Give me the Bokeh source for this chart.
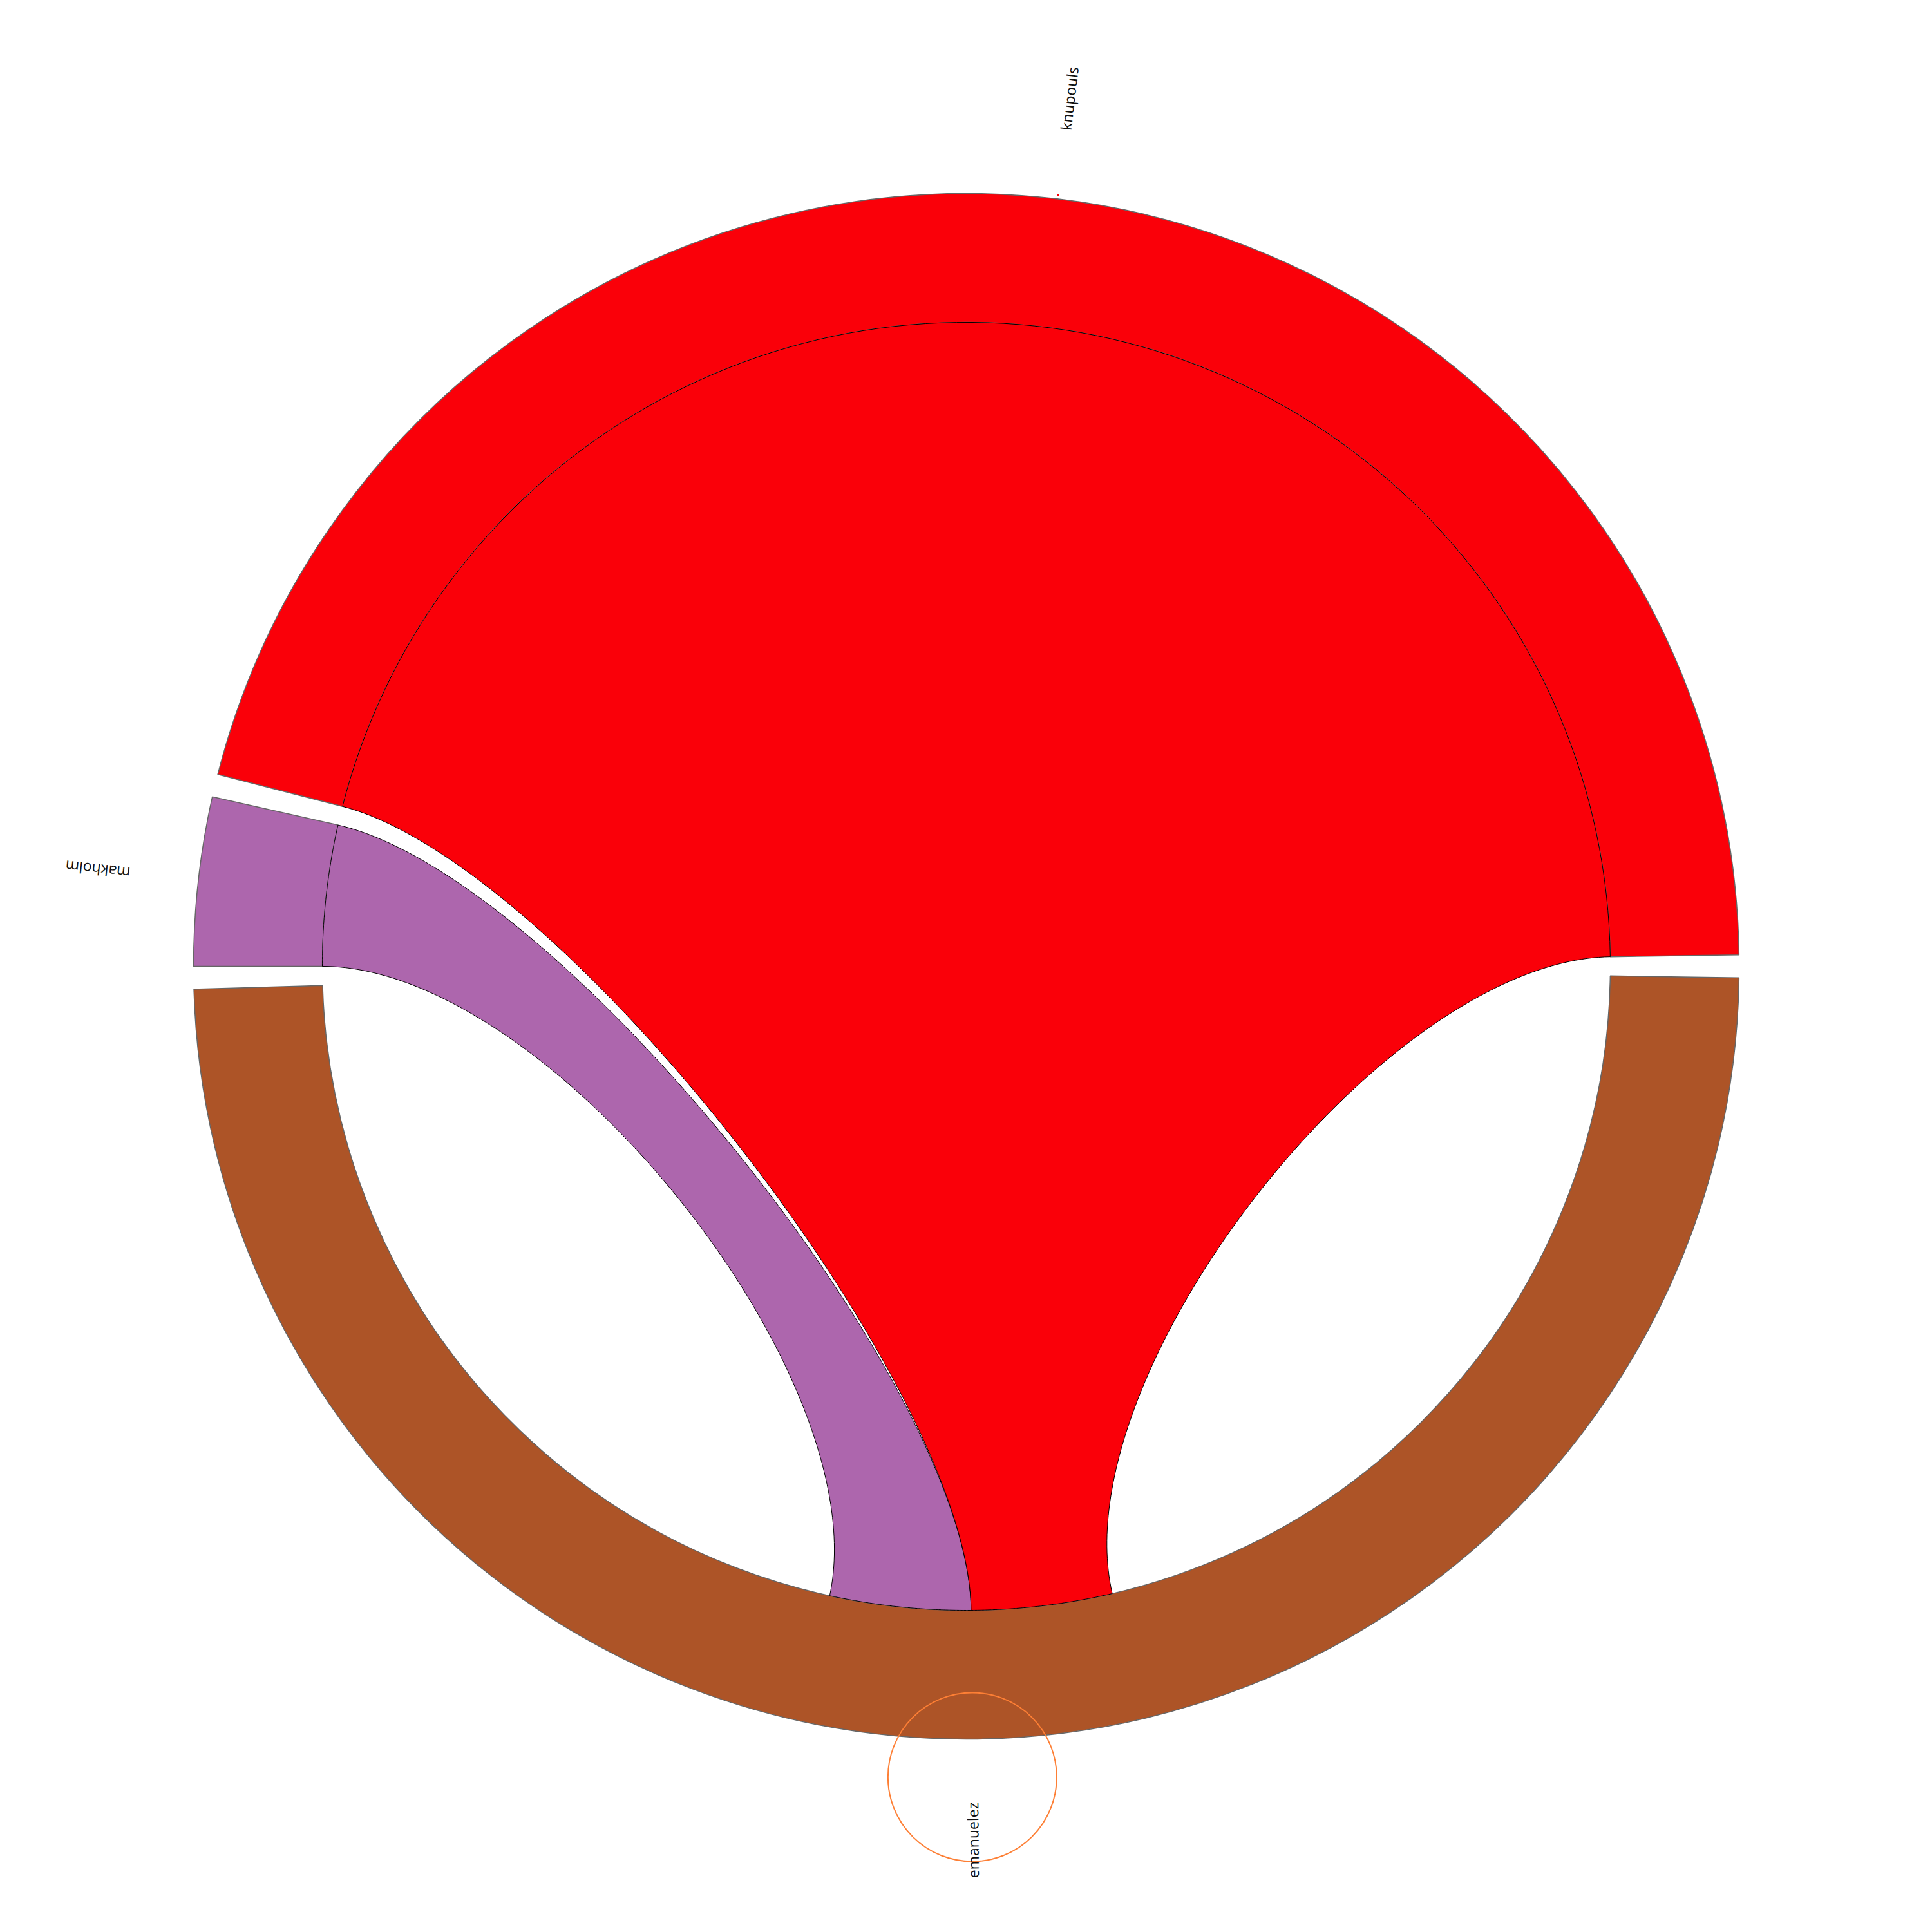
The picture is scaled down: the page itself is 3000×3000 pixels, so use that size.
import numpy as np
from bokeh.plotting import figure
from bokeh.models import Range1d
from bokeh.embed import file_html
from bokeh.resources import INLINE
from bokeh.core.properties import value

# ---- data ----
nodes = ["knupouls", "makholm", "emanuelez"]
node_colors = ["#fa0009", "#ad66ad", "#ad5427"]
node_sizes = [13, 1, 14]
edge_source = ["knupouls", "makholm"]
edge_target = ["emanuelez", "emanuelez"]
edge_source_width = [13, 1]
edge_target_width = [1, 1]

# ---- layout ----
CX, CY = 1500.0, 1500.0
R_IN, R_OUT, R_LAB = 1000.0, 1200.0, 1357.0
GAP = 1.7
K = 0.65
unit = (360.0 - GAP * len(nodes)) / sum(node_sizes)

starts, ends = [], []
a = GAP / 2.0
for s in node_sizes:
    starts.append(a)
    ends.append(a + s * unit)
    a += s * unit + GAP
mids = [(s + e) / 2.0 for s, e in zip(starts, ends)]
idx = {n: i for i, n in enumerate(nodes)}

p = figure(width=2984, height=2984, x_range=Range1d(0, 2984), y_range=Range1d(16, 3000),
           output_backend="svg", toolbar_location=None)
p.axis.visible = False
p.grid.visible = False
p.outline_line_color = None
p.min_border = 0
p.background_fill_color = "white"
p.border_fill_color = "white"

# outer arcs
p.annular_wedge(x=CX, y=CY, inner_radius=R_IN, outer_radius=R_OUT,
                start_angle=starts, end_angle=ends, start_angle_units="deg", end_angle_units="deg",
                fill_color=node_colors, line_color="#666666", line_width=1.5)

# chord placement
src_cursor = list(starts)
order = sorted(range(len(edge_source)), key=lambda j: -mids[idx[edge_source[j]]])
tgt_total = {}
for j in range(len(edge_source)):
    t = idx[edge_target[j]]
    tgt_total[t] = tgt_total.get(t, 0) + edge_target_width[j]
tgt_cursor = {t: mids[t] - tot * unit / 2.0 for t, tot in tgt_total.items()}

def pt(ang, r=R_IN):
    th = np.deg2rad(ang)
    return np.array([r * np.cos(th), r * np.sin(th)])

def arc(a0, a1, n=120):
    th = np.deg2rad(np.linspace(a0, a1, n))
    return np.column_stack([R_IN * np.cos(th), R_IN * np.sin(th)])

def bez(a0, a1, n=120):
    P0, P3 = pt(a0), pt(a1)
    C1, C2 = K * P0, K * P3
    t = np.linspace(0, 1, n)[:, None]
    return ((1 - t) ** 3) * P0 + 3 * ((1 - t) ** 2) * t * C1 + 3 * (1 - t) * t ** 2 * C2 + t ** 3 * P3

xs, ys, cols = [], [], []
geom = {}
for j in range(len(edge_source)):
    s = idx[edge_source[j]]
    a0 = src_cursor[s]
    a1 = a0 + edge_source_width[j] * unit
    src_cursor[s] = a1
    geom[j] = (a0, a1)
for j in order:
    t = idx[edge_target[j]]
    b0 = tgt_cursor[t]
    b1 = b0 + edge_target_width[j] * unit
    tgt_cursor[t] = b1
    a0, a1 = geom[j]
    path = np.vstack([arc(a0, a1), bez(a1, b0), arc(b0, b1), bez(b1, a0)])
    xs.append(list(CX + path[:, 0]))
    ys.append(list(CY + path[:, 1]))
    cols.append(node_colors[idx[edge_source[j]]])

p.patches(xs=xs, ys=ys, fill_color=cols, line_color="black", line_width=1)

# node marker (knupouls)
m0 = mids[0]
p.scatter(x=[CX + 1206 * np.cos(np.deg2rad(m0))], y=[CY + 1206 * np.sin(np.deg2rad(m0))],
          marker="square", size=3, fill_color=node_colors[0], line_color=None)

# highlight circle at emanuelez
m2 = mids[2]
p.circle(x=[CX + 1259 * np.cos(np.deg2rad(m2))], y=[CY + 1259 * np.sin(np.deg2rad(m2))],
         radius=131, fill_color=None, line_color="#fd7f35", line_width=2)

# labels
lx = [CX + R_LAB * np.cos(np.deg2rad(m)) for m in mids]
ly = [CY + R_LAB * np.sin(np.deg2rad(m)) for m in mids]
rot = [m % 180.0 for m in mids]
p.text(x=lx, y=ly, text=nodes, angle=rot, angle_units="deg",
       text_align="center", text_baseline="middle",
       text_font=value("Open Sans"), text_font_size="23px", text_color="#111111")

open("out.html", "w").write(file_html(p, INLINE))
